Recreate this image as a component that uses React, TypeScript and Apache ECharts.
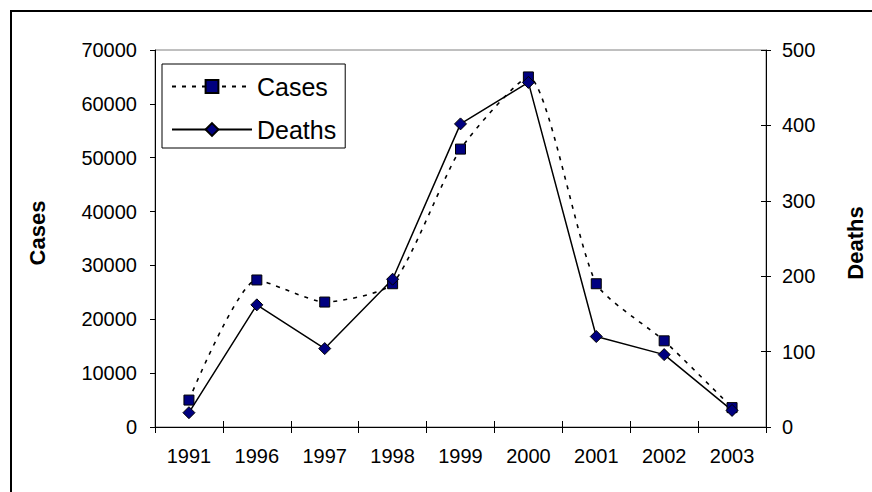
import React, { useEffect, useRef } from "react";
import * as echarts from "echarts";

const years = ["1991", "1996", "1997", "1998", "1999", "2000", "2001", "2002", "2003"];
const cases = [5000, 27300, 23200, 26600, 51600, 65000, 26600, 16000, 3600];
const deaths = [19, 162, 104, 196, 402, 457, 120, 96, 22];
const casesTicks = { min: 0, max: 70000, interval: 10000 };
const deathsTicks = { min: 0, max: 500, interval: 100 };

const FONT = "'Liberation Sans', Arial, sans-serif";
const plain = (v: number) => String(v);

export default function App() {
  const ref = useRef<HTMLDivElement>(null);
  useEffect(() => {
    if (!ref.current) return;
    const chart = echarts.init(ref.current, null, { renderer: "svg" });
    chart.setOption({
      animation: false,
      backgroundColor: "#fff",
      textStyle: { fontFamily: FONT },
      grid: {
        left: 155, top: 50, right: 106, bottom: 65,
        show: true, borderColor: "#808080", borderWidth: 1, backgroundColor: "transparent",
      },
      legend: {
        orient: "vertical",
        left: 162, top: 64,
        padding: [8, 9, 4, 9],
        itemGap: 14,
        itemWidth: 80,
        itemHeight: 16,
        borderColor: "#000", borderWidth: 1, backgroundColor: "#fff",
        textStyle: { fontSize: 25, lineHeight: 29, color: "#000", fontFamily: FONT },
        data: ["Cases", "Deaths"],
      },
      xAxis: [
        {
          type: "category", data: years, boundaryGap: true,
          axisLine: { lineStyle: { color: "#000", width: 1 } },
          axisTick: { show: true, length: 6, inside: false, lineStyle: { color: "#000" } },
          axisLabel: { fontSize: 20, color: "#000", margin: 19, fontFamily: FONT },
          splitLine: { show: false },
        },
        {
          type: "category", data: years, boundaryGap: true, position: "bottom",
          axisLine: { show: false },
          axisTick: { show: true, length: 6, inside: true, lineStyle: { color: "#000" } },
          axisLabel: { show: false },
          splitLine: { show: false },
        },
      ],
      yAxis: [
        {
          type: "value", position: "left", ...casesTicks,
          axisLine: { show: true, lineStyle: { color: "#000" } },
          axisTick: { show: true, length: 5, lineStyle: { color: "#000" } },
          axisLabel: { fontSize: 20, color: "#000", margin: 18, fontFamily: FONT, formatter: plain },
          splitLine: { show: false },
        },
        {
          type: "value", position: "right", ...deathsTicks,
          axisLine: { show: true, lineStyle: { color: "#000" } },
          axisTick: { show: true, length: 5, lineStyle: { color: "#000" } },
          axisLabel: { fontSize: 20, color: "#000", margin: 16, fontFamily: FONT, formatter: plain },
          splitLine: { show: false },
        },
        {
          type: "value", position: "right", ...deathsTicks,
          axisLine: { show: false },
          axisTick: { show: true, length: 5, inside: true, lineStyle: { color: "#000" } },
          axisLabel: { show: false },
          splitLine: { show: false },
        },
      ],
      series: [
        {
          name: "Cases", type: "line", data: cases, xAxisIndex: 0, yAxisIndex: 0,
          smooth: 0.2,
          symbol: "rect", symbolSize: 10,
          itemStyle: { color: "#000080", borderColor: "#000", borderWidth: 1 },
          lineStyle: { color: "#000", width: 1.6, type: [4, 6] },
        },
        {
          name: "Deaths", type: "line", data: deaths, xAxisIndex: 0, yAxisIndex: 1,
          symbol: "diamond", symbolSize: 12,
          itemStyle: { color: "#000080", borderColor: "#000", borderWidth: 1 },
          lineStyle: { color: "#000", width: 1.5 },
        },
      ],
      graphic: [
        {
          type: "rect", silent: true,
          shape: { x: 11, y: 11, width: 900, height: 600 },
          style: { fill: "none", stroke: "#000", lineWidth: 2 },
        },
        {
          type: "text", x: 37, y: 233, rotation: Math.PI / 2,
          style: {
            text: "Cases", fontSize: 22, fontWeight: "bold", fontFamily: FONT, fill: "#000",
            align: "center", verticalAlign: "middle",
          },
        },
        {
          type: "text", x: 855, y: 243, rotation: Math.PI / 2,
          style: {
            text: "Deaths", fontSize: 22, fontWeight: "bold", fontFamily: FONT, fill: "#000",
            align: "center", verticalAlign: "middle",
          },
        },
      ],
    });
    return () => chart.dispose();
  }, []);
  return (
    <div
      ref={ref}
      style={{ position: "fixed", left: 0, top: 0, width: 872, height: 492, background: "#fff" }}
    />
  );
}
